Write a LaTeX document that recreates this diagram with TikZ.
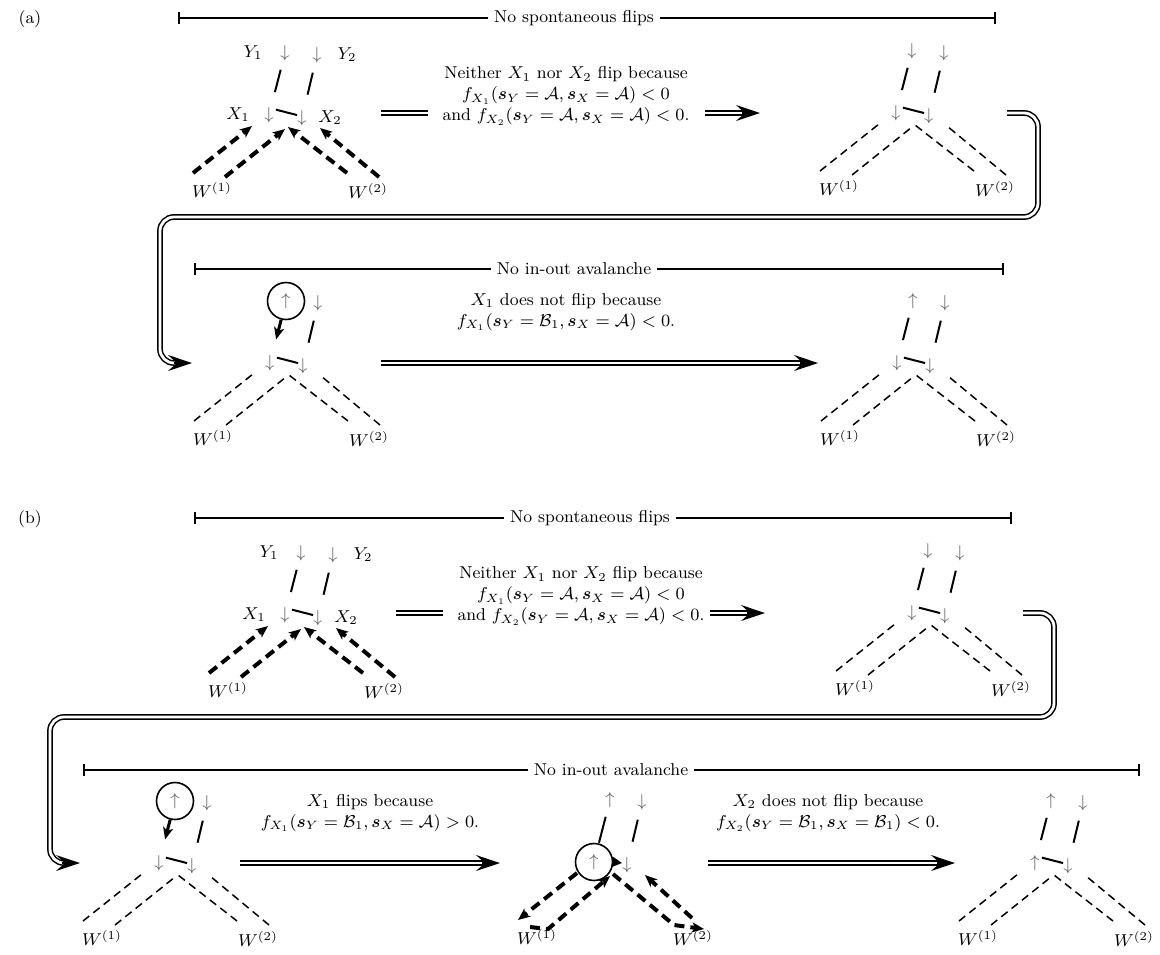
\RequirePackage{fix-cm}
\documentclass[tikz,border=0pt]{standalone}
\usepackage{amsmath,bm}
\usetikzlibrary{arrows.meta,calc}

\tikzset{
  every node/.append style={font=\fontsize{8.6pt}{10.5pt}\selectfont},
  spin/.style={inner sep=0pt, text=black!60},
  lab/.style={inner sep=0pt},
  bond/.style={line width=1pt},
  wline/.style={line width=0.75pt, dash pattern=on 4pt off 2.6pt},
  wbold/.style={line width=2pt, dash pattern=on 5pt off 3pt},
  wtip/.style={-{Stealth[length=6pt,width=5pt,inset=1.5pt]}},
  ring/.style={draw, circle, line width=0.8pt, minimum size=18.5pt, inner sep=0pt},
  flipto/.style={line width=1.5pt, -{Stealth[length=6pt,width=5pt,inset=1.5pt]}},
  barline/.style={line width=0.8pt, {Bar[width=6pt]}-{Bar[width=6pt]}},
  barlab/.style={fill=white, inner xsep=3pt, inner ysep=1pt},
  dline/.style={double, double distance=1.4pt, line width=0.75pt},
  dhead/.style={-{Stealth[length=12pt,width=8pt,inset=4.5pt]}, line width=0.75pt},
  note/.style={align=center, inner sep=0pt},
}

% four spins, two W labels and the end points of the W couplings
\newcommand\spintree[5]{%
  \begin{scope}[shift={(#2,#3)}]
    \node[spin] (#1x1) at (0,0) {#5};
    \node[spin] (#1x2) at (33,3) {$\downarrow$};
    \node[spin] (#1y1) at (16,-62) {#4};
    \node[spin] (#1y2) at (48,-60) {$\downarrow$};
    \node[lab] (#1w1) at (-57,75) {$W^{(1)}$};
    \node[lab] (#1w2) at (99,76) {$W^{(2)}$};
    \coordinate (#1a11) at (-76,58);  \coordinate (#1e11) at (-17,11);
    \coordinate (#1a12) at (-44,62);  \coordinate (#1e12) at (16,14);
    \coordinate (#1a21) at (78,58);   \coordinate (#1e21) at (19,12);
    \coordinate (#1a22) at (110,62);  \coordinate (#1e22) at (51,13);
  \end{scope}}
\newcommand\treelabels[1]{%
  \node[lab] (#1ly1) at ($(#1y1)+(-32,0)$) {$Y_1$};
  \node[lab] (#1ly2) at ($(#1y2)+(30,0)$) {$Y_2$};
  \node[lab] (#1lx1) at ($(#1x1)+(-31,0)$) {$X_1$};
  \node[lab] (#1lx2) at ($(#1x2)+(28,0)$) {$X_2$};}
\newcommand\xbond[1]{\draw[bond] ($(#1x1)!0.21!(#1x2)+(0,-6)$) -- ($(#1x1)!0.85!(#1x2)+(0,-2.5)$);}
\newcommand\yonebond[1]{\draw[bond] ($(#1y1)!0.27!(#1x1)$) -- ($(#1y1)!0.63!(#1x1)$);}
\newcommand\ytwobond[1]{\draw[bond] ($(#1y2)!0.28!(#1x2)$) -- ($(#1y2)!0.63!(#1x2)$);}
\newcommand\wplain[1]{%
  \draw[wline] (#1a11) -- (#1e11);
  \draw[wline] (#1a12) -- (#1e12);
  \draw[wline] (#1a21) -- (#1e21);
  \draw[wline] (#1a22) -- (#1e22);}
\newcommand\wactive[1]{%
  \draw[wbold,wtip] (#1a11) -- (#1e11);
  \draw[wbold,wtip] (#1a12) -- (#1e12);
  \draw[wbold,wtip] (#1a21) -- (#1e21);
  \draw[wbold,wtip] (#1a22) -- (#1e22);}
% double-lined implication arrow between two named coordinates
\newcommand\darrow[2]{%
  \draw[dline, shorten >=6pt] (#1) -- (#2);
  \draw[dhead] ($(#2)!9pt!(#1)$) -- (#2);}

\begin{document}
\begin{tikzpicture}[x=0.5pt, y=-0.5pt]
\useasboundingbox (0,0) rectangle (1160,954);

%%%%%%%%%%%%%%%% (a)
\node[lab] (tagA) at (30,19) {(a)};
\coordinate (barAl) at (178,18); \coordinate (barAr) at (996,18);
\draw[barline] (barAl) -- (barAr);
\node[barlab] (barAt) at (574,18) {No spontaneous flips};

\spintree{A}{269}{115}{$\downarrow$}{$\downarrow$}
\treelabels{A}
\xbond{A}\yonebond{A}\ytwobond{A}\wactive{A}

\node[note] (tA1) at (566,96) {Neither $X_1$ nor $X_2$ flip because\\
  $f_{X_1}(\bm{s}_Y=\mathcal{A},\bm{s}_X=\mathcal{A})<0$\\
  and $f_{X_2}(\bm{s}_Y=\mathcal{A},\bm{s}_X=\mathcal{A})<0$.};
\coordinate (ca1) at (381,113); \coordinate (ca2) at (428,113);
\coordinate (ca3) at (705,113); \coordinate (ca4) at (760,113);
\draw[dline] (ca1) -- (ca2);
\darrow{ca3}{ca4}

\spintree{B}{896}{113}{$\downarrow$}{$\downarrow$}
\xbond{B}\yonebond{B}\ytwobond{B}\wplain{B}

\coordinate (la1) at (1007,113); \coordinate (la2) at (1038,217);
\coordinate (la3) at (160,217);  \coordinate (la4) at (192,363);
\draw[dline, rounded corners=7pt, shorten >=6pt] (la1) -| (la2) -- (la3) |- (la4);
\draw[dhead] ($(la4)+(-18,0)$) -- (la4);

\coordinate (barBl) at (194,269); \coordinate (barBr) at (1004,269);
\draw[barline] (barBl) -- (barBr);
\node[barlab] (barBt) at (574,269) {No in-out avalanche};

\spintree{C}{270}{363}{$\uparrow$}{$\downarrow$}
\node[ring] (Cr) at (Cy1) {};
\draw[flipto] (Cr) -- ($(Cy1)!0.62!(Cx1)$);
\xbond{C}\ytwobond{C}\wplain{C}

\node[note] (tA2) at (566,312) {$X_1$ does not flip because\\
  $f_{X_1}(\bm{s}_Y=\mathcal{B}_1,\bm{s}_X=\mathcal{A})<0$.};
\coordinate (cb1) at (381,363); \coordinate (cb2) at (818,363);
\darrow{cb1}{cb2}

\spintree{D}{897}{363}{$\uparrow$}{$\downarrow$}
\xbond{D}\yonebond{D}\ytwobond{D}\wplain{D}

%%%%%%%%%%%%%%%% (b)
\node[lab] (tagB) at (30,519) {(b)};
\coordinate (barCl) at (194,518); \coordinate (barCr) at (1012,518);
\draw[barline] (barCl) -- (barCr);
\node[barlab] (barCt) at (590,518) {No spontaneous flips};

\spintree{E}{285}{615}{$\downarrow$}{$\downarrow$}
\treelabels{E}
\xbond{E}\yonebond{E}\ytwobond{E}\wactive{E}

\node[note] (tB1) at (581,596) {Neither $X_1$ nor $X_2$ flip because\\
  $f_{X_1}(\bm{s}_Y=\mathcal{A},\bm{s}_X=\mathcal{A})<0$\\
  and $f_{X_2}(\bm{s}_Y=\mathcal{A},\bm{s}_X=\mathcal{A})<0$.};
\coordinate (cc1) at (396,613); \coordinate (cc2) at (443,613);
\coordinate (cc3) at (710,613); \coordinate (cc4) at (765,613);
\draw[dline] (cc1) -- (cc2);
\darrow{cc3}{cc4}

\spintree{F}{912}{613}{$\downarrow$}{$\downarrow$}
\xbond{F}\yonebond{F}\ytwobond{F}\wplain{F}

\coordinate (lb1) at (1023,613); \coordinate (lb2) at (1054,717);
\coordinate (lb3) at (50,717);   \coordinate (lb4) at (80,863);
\draw[dline, rounded corners=7pt, shorten >=6pt] (lb1) -| (lb2) -- (lb3) |- (lb4);
\draw[dhead] ($(lb4)+(-18,0)$) -- (lb4);

\coordinate (barDl) at (83,770); \coordinate (barDr) at (1140,770);
\draw[barline] (barDl) -- (barDr);
\node[barlab] (barDt) at (611,770) {No in-out avalanche};

\spintree{G}{159}{863}{$\uparrow$}{$\downarrow$}
\node[ring] (Gr) at (Gy1) {};
\draw[flipto] (Gr) -- ($(Gy1)!0.62!(Gx1)$);
\xbond{G}\ytwobond{G}\wplain{G}

\node[note] (tB2) at (370,813) {$X_1$ flips because\\
  $f_{X_1}(\bm{s}_Y=\mathcal{B}_1,\bm{s}_X=\mathcal{A})>0$.};
\coordinate (cd1) at (240,863); \coordinate (cd2) at (500,863);
\darrow{cd1}{cd2}

\spintree{H}{594}{862}{$\uparrow$}{$\uparrow$}
\node[ring] (Hr) at (Hx1) {};
\draw[bond] ($(Hy1)!0.27!(Hx1)$) -- ($(Hy1)!0.69!(Hx1)$);
\ytwobond{H}
\draw[line width=1.2pt, -{Triangle[length=5pt,width=5pt]}] (Hr.east) -- ($(Hx2.west)+(0,-2)$);
% couplings taking part in the flip
\draw[wbold,wtip] (He11) -- (Ha11);
\draw[wbold,wtip] ($(Ha11)+(12,7)$) -- ($(Ha12)+(-2,5)$) -- (He12);
\draw[wbold,wtip] (He21) -- ($(Ha21)+(2,5)$) -- ($(Ha22)+(0,5)$);
\draw[wbold,wtip] ($(Ha22)+(-12,-6)$) -- (He22);

\node[note] (tB3) at (828,813) {$X_2$ does not flip because\\
  $f_{X_2}(\bm{s}_Y=\mathcal{B}_1,\bm{s}_X=\mathcal{B}_1)<0$.};
\coordinate (ce1) at (708,863); \coordinate (ce2) at (955,863);
\darrow{ce1}{ce2}

\spintree{I}{1035}{863}{$\uparrow$}{$\uparrow$}
\xbond{I}\yonebond{I}\ytwobond{I}\wplain{I}

\end{tikzpicture}
\end{document}
